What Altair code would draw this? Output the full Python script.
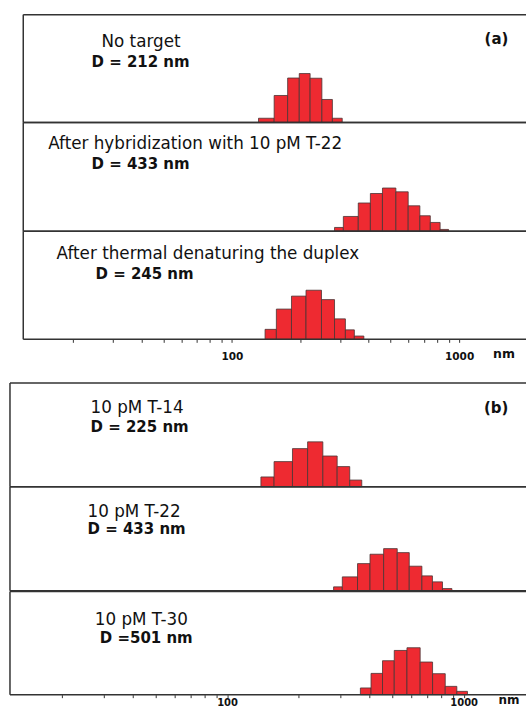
import altair as alt
import pandas as pd

# ---------------- data ----------------
# bin edges (nm) and bar heights (relative intensity) for each panel
a1_edges = [131, 153.5, 176, 198, 221, 249, 277, 306]
a1_heights = [4.2, 27, 44.5, 49, 44.3, 23, 4.2]

a2_edges = [283, 309.5, 360, 407, 460, 527, 597, 672, 747, 825, 899]
a2_heights = [3.8, 14.8, 28.3, 37.8, 43.3, 39.5, 25.5, 15.5, 8.8, 1.8]

a3_edges = [140, 157, 183, 212, 248, 283, 316, 346, 381]
a3_heights = [10, 30.3, 43.3, 49.2, 39.8, 20.5, 9.5, 3.3]

b1_edges = [139, 158, 189, 219, 254, 292, 330, 371]
b1_heights = [9.8, 25.2, 38.2, 45, 30.8, 20.2, 6.7]

b2_edges = [282, 307, 356, 402, 459, 524, 589, 666, 738, 814, 892]
b2_heights = [4, 14, 27.3, 36.7, 42.3, 38.3, 24.7, 15, 9, 2.3]

b3_edges = [366, 406, 454, 509, 576, 655, 739, 836, 936, 1038]
b3_heights = [6.7, 21.3, 34, 44.3, 47, 32.7, 21, 8.3, 3.3]

conditions = ["No target", "After hybridization with 10 pM T-22",
              "After thermal denaturing the duplex",
              "10 pM T-14", "10 pM T-22", "10 pM T-30"]
diameters = ["D = 212 nm", "D = 433 nm", "D = 245 nm",
             "D = 225 nm", "D = 433 nm", "D =501 nm"]
group_tags = ["(a)", "(b)"]
unit_label = "nm"

tick_values = [20, 30, 40, 50, 60, 70, 80, 90,
               100, 200, 300, 400, 500, 600, 700, 800, 900, 1000]
labelled_ticks = [100, 1000]

# ---------------- style / layout ----------------
FONT = "DejaVu Sans"
RED = "#ee2a31"
EDGE = "#4a3535"
FRAME = "#333333"
W = 517
dummy = pd.DataFrame({"k": [0]})

A_DOMAIN = [10.56, 1969.7]
B_DOMAIN = [12.085, 1835]


def text_layer(txt, px, py, size, bold=False, align="left"):
    return alt.Chart(dummy).mark_text(
        text=txt, font=FONT, fontSize=size,
        fontWeight="bold" if bold else "normal",
        align=align, baseline="alphabetic", color="#111111"
    ).encode(x=alt.value(px), y=alt.value(py))


def panel(edges, heights, height, xdom, frame_left, idx, t1, t2,
          tag=None, axis=None, unit=None):
    df = pd.DataFrame({"lo": edges[:-1], "hi": edges[1:], "h": heights})
    bars = alt.Chart(df).mark_rect(
        fill=RED, stroke=EDGE, strokeWidth=0.8
    ).encode(
        x=alt.X("lo:Q", scale=alt.Scale(type="log", domain=xdom),
                axis=axis, title=None),
        x2="hi:Q",
        y=alt.Y("h:Q", scale=alt.Scale(domain=[0, height]), axis=None),
        y2=alt.datum(0),
    )
    frame = [
        alt.Chart(dummy).mark_rule(color=FRAME, strokeWidth=1.5).encode(
            x=alt.value(frame_left), x2=alt.value(W), y=alt.value(0)),
        alt.Chart(dummy).mark_rule(color=FRAME, strokeWidth=1.5).encode(
            x=alt.value(frame_left), x2=alt.value(W), y=alt.value(height)),
        alt.Chart(dummy).mark_rule(color=FRAME, strokeWidth=1.5).encode(
            x=alt.value(frame_left), y=alt.value(0), y2=alt.value(height)),
    ]
    layers = [bars] + frame + [
        text_layer(conditions[idx], t1[0], t1[1], 16.8),
        text_layer(diameters[idx], t2[0], t2[1], 15, bold=True),
    ]
    if tag is not None:
        layers.append(text_layer(tag[0], tag[1], tag[2], 15, bold=True, align="right"))
    if unit is not None:
        layers.append(text_layer(unit_label, unit[0], unit[1], unit[2], bold=True, align="center"))
    return alt.layer(*layers).properties(width=W, height=height)


def make_axis(size, pad):
    expr = "(" + " || ".join(f"datum.value == {v}" for v in labelled_ticks) + ") ? format(datum.value, 'd') : ''"
    return alt.Axis(values=tick_values, labelExpr=expr, domain=False, grid=False,
                    ticks=True, tickSize=3, tickColor=FRAME, tickWidth=1,
                    labelFont=FONT, labelFontSize=size, labelFontWeight="bold",
                    labelColor="#111111", labelPadding=pad, labelOverlap=False,
                    labelFlush=False, labelBound=False)


a1 = panel(a1_edges, a1_heights, 108, A_DOMAIN, 13.3, 0, (91.7, 32), (81.7, 52.7),
           tag=(group_tags[0], 499.3, 29.3))
a2 = panel(a2_edges, a2_heights, 109, A_DOMAIN, 13.3, 1, (38.3, 26.3), (81.7, 46.3))
a3 = panel(a3_edges, a3_heights, 108.3, A_DOMAIN, 13.3, 2, (46.7, 28.3), (85.7, 48.3),
           axis=make_axis(10.5, 9.4), unit=(495, 127.3, 12.5))

spacer = alt.Chart(dummy).mark_text(text=" ").encode(
    x=alt.value(0), y=alt.value(0)).properties(width=W, height=42.4)

b1 = panel(b1_edges, b1_heights, 104, B_DOMAIN, 0, 3, (80.7, 30.6), (80.7, 49.3),
           tag=(group_tags[1], 499.3, 30))
b2 = panel(b2_edges, b2_heights, 104.3, B_DOMAIN, 0, 4, (77.7, 30), (77.7, 47.6))
b3 = panel(b3_edges, b3_heights, 103.3, B_DOMAIN, 0, 5, (85, 33.3), (90, 51.7),
           axis=make_axis(10, 0), unit=(500, 112.5, 12))

chart = alt.vconcat(a1, a2, a3, spacer, b1, b2, b3, spacing=0, bounds="flush").resolve_scale(
    x="independent", y="independent").resolve_axis(x="independent", y="independent").properties(
    padding={"left": 9, "top": 13, "right": 0, "bottom": 0}
).configure_view(stroke=None)

chart.save("out.html", embed_options={"renderer": "svg", "actions": False})
